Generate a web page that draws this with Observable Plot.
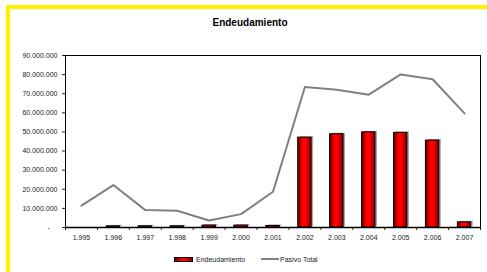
<!DOCTYPE html>
<html><head><meta charset="utf-8">
<script src="https://cdn.jsdelivr.net/npm/d3@7"></script>
<script src="https://cdn.jsdelivr.net/npm/@observablehq/plot@0.6"></script>
<style>
body{margin:0;background:#fff;width:487px;height:272px;overflow:hidden;position:relative;font-family:Arial,"Liberation Sans",sans-serif}
#border{position:absolute;left:6px;top:5px;width:520px;height:300px;border-left:4px solid #fff200;border-top:4px solid #fff200;z-index:2;pointer-events:none}
#title{position:absolute;top:17px;left:0;width:500px;text-align:center;font-weight:bold;font-size:10px;color:#000}
#chart{position:absolute;left:0;top:0}
#legend{position:absolute;top:254px;left:174px;font-size:7px;color:#222;display:flex;align-items:center;height:10px}
.sw{display:inline-block;width:17px;height:3px;border:1px solid #000;background:linear-gradient(to right,#600,#f00 35%,#f00 65%,#800);margin-right:3px}
.ln{display:inline-block;width:18px;height:2px;background:#808080;margin-left:16px;margin-right:1px}
</style></head>
<body>
<div id="border"></div>
<div id="chart"></div>
<div id="title"></div>
<div id="legend"></div>
<script>
const title = "Endeudamiento";
const seriesNames = ["Endeudamiento", "Pasivo Total"];
const years = [1995,1996,1997,1998,1999,2000,2001,2002,2003,2004,2005,2006,2007];
const endeudamiento = [0, 600000, 600000, 600000, 1000000, 1000000, 800000, 47000000, 48800000, 49800000, 49500000, 45500000, 2700000];
const pasivoTotal = [11400000, 22200000, 9100000, 8800000, 3700000, 7000000, 18700000, 73500000, 72100000, 69500000, 80100000, 77600000, 59700000];
const yTicks = [0,10000000,20000000,30000000,40000000,50000000,60000000,70000000,80000000,90000000];

const data = years.map((y,i)=>({year:y, deuda:endeudamiento[i], pasivo:pasivoTotal[i]}));
const bars = data.filter(d=>d.deuda>0);
const loc = d3.formatLocale({decimal:",", thousands:".", grouping:[3], currency:["",""]});
const fmt = loc.format(",.0f");
const boundaries = years.map(y=>y-0.5).concat([years[years.length-1]+0.5]);
const half = 0.21;

document.getElementById("title").textContent = title;

const plot = Plot.plot({
  width: 487, height: 272,
  marginLeft: 65, marginRight: 7, marginTop: 55, marginBottom: 45,
  style: {fontFamily: "Arial, 'Liberation Sans', sans-serif", fontSize: "7px", background: "transparent", color: "#222"},
  x: {type: "linear", domain: [years[0]-0.5, years[years.length-1]+0.5]},
  y: {domain: [0, 90000000]},
  marks: [
    Plot.rectY(bars, {x1: d=>d.year-half, x2: d=>d.year+half, y: "deuda", fill: "#a8a8a8", dx: 2, dy: -1}),
    Plot.rectY(bars, {x1: d=>d.year-half, x2: d=>d.year+half, y: "deuda", fill: "url(#barGrad)", stroke: "#000", strokeWidth: 1}),
    Plot.line(data, {x: "year", y: "pasivo", stroke: "#808080", strokeWidth: 2}),
    Plot.frame({stroke: "#000", strokeWidth: 1}),
    Plot.ruleY([0], {stroke: "#000", strokeWidth: 1.5}),
    Plot.axisY({ticks: yTicks, tickSize: 3, tickPadding: 5, tickFormat: d => d === 0 ? "-\u00a0\u00a0\u00a0\u00a0" : fmt(d), label: null}),
    Plot.axisX({ticks: boundaries, tickSize: 3, tickFormat: () => "", label: null}),
    Plot.axisX({ticks: years, tickSize: 0, tickPadding: 8, tickFormat: fmt, label: null})
  ]
});
const ns = "http://www.w3.org/2000/svg";
const defs = document.createElementNS(ns, "defs");
defs.innerHTML = '<linearGradient id="barGrad" x1="0" x2="1" y1="0" y2="0"><stop offset="0" stop-color="#5a0000"/><stop offset="0.35" stop-color="#ff0000"/><stop offset="0.6" stop-color="#ff0000"/><stop offset="1" stop-color="#7a0000"/></linearGradient>';
plot.insertBefore(defs, plot.firstChild);
document.getElementById("chart").appendChild(plot);

const lg = document.getElementById("legend");
lg.innerHTML = '<span class="sw"></span><span>' + seriesNames[0] + '</span><span class="ln"></span><span>' + seriesNames[1] + '</span>';
</script>
</body></html>
